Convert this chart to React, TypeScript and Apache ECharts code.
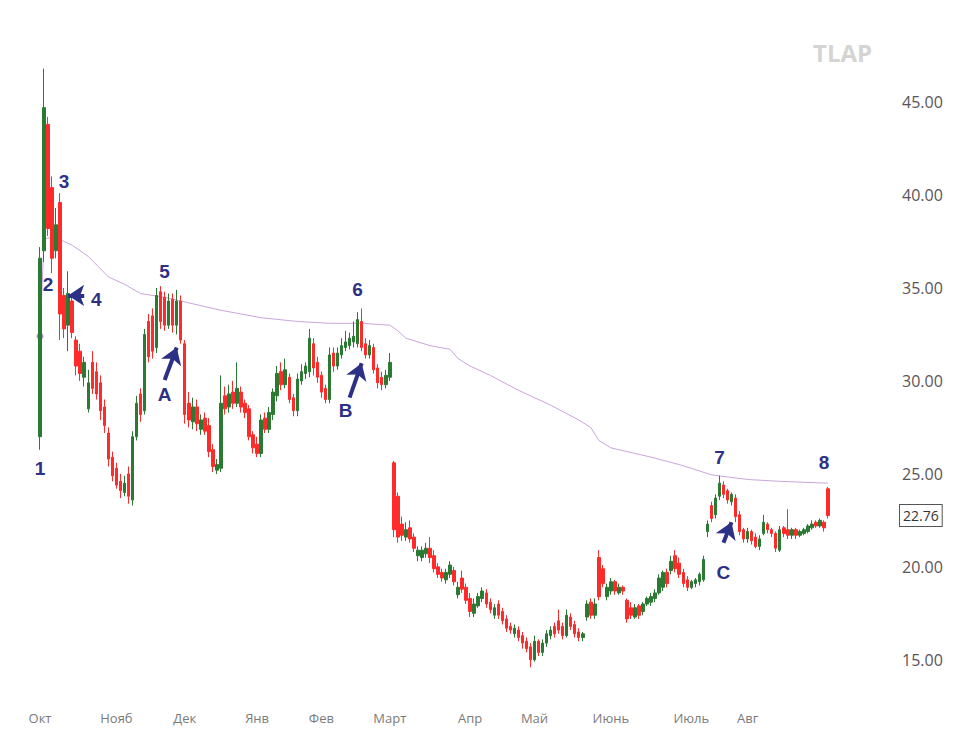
import React, { useEffect, useRef } from "react";
import * as echarts from "echarts";

const monthNames = ["Окт", "Нояб", "Дек", "Янв", "Фев", "Март", "Апр", "Май", "Июнь", "Июль", "Авг"];

// daily candles, each [open, close, low, high]
const octCandles = [
  [27.0, 36.6, 26.3, 37.2], [37.0, 44.7, 36.4, 46.8], [43.8, 38.2, 37.8, 44.2], [40.4, 36.6, 35.8, 41.0],
  [37.0, 38.4, 36.6, 39.3], [39.6, 33.6, 32.2, 40.1], [34.6, 32.8, 32.3, 35.0], [33.0, 34.7, 31.6, 35.9],
  [34.3, 32.6, 32.3, 34.6], [32.2, 30.8, 30.3, 32.4], [31.6, 30.4, 30.0, 32.0], [30.2, 31.0, 29.7, 31.3],
  [28.5, 29.9, 28.3, 30.6], [31.0, 29.6, 29.3, 31.6], [30.5, 29.3, 29.0, 31.0], [29.9, 28.4, 27.9, 30.3],
  [28.6, 27.6, 27.2, 29.0], [27.2, 25.8, 25.4, 27.5], [25.9, 24.9, 24.6, 26.2],
];
const novCandles = [
  [25.3, 24.4, 24.2, 25.6], [24.6, 24.1, 23.7, 25.0], [24.0, 24.5, 23.8, 24.9], [25.0, 23.8, 23.4, 25.4],
  [23.6, 27.0, 23.3, 27.3], [27.0, 28.8, 26.8, 29.2], [29.3, 28.2, 27.8, 29.6], [28.4, 32.5, 28.2, 32.8],
  [33.2, 31.3, 31.0, 33.6], [33.5, 31.6, 31.2, 33.9], [31.8, 34.6, 31.5, 35.0], [34.8, 33.2, 32.8, 35.1],
  [34.5, 33.0, 32.7, 34.8], [33.0, 34.3, 32.8, 34.7], [34.4, 33.0, 32.6, 34.7], [33.0, 34.3, 32.5, 34.9],
  [34.3, 32.2, 32.0, 34.6],
];
const decCandles = [
  [32.0, 28.2, 27.7, 32.2], [28.8, 27.9, 27.5, 29.4], [27.8, 28.6, 27.4, 29.1], [28.6, 27.7, 27.3, 29.0],
  [27.4, 27.9, 27.1, 28.2], [28.0, 27.3, 27.1, 28.3], [27.6, 26.2, 25.9, 28.0], [26.3, 25.4, 25.1, 26.6],
  [25.2, 25.5, 25.0, 25.8], [25.3, 28.8, 25.1, 30.3], [29.2, 28.5, 28.2, 29.7], [28.6, 29.3, 28.3, 29.8],
  [29.4, 28.8, 28.5, 30.0], [28.8, 29.6, 28.6, 31.0], [29.4, 28.6, 28.3, 29.7], [28.8, 28.3, 28.0, 29.0],
  [28.5, 27.0, 26.8, 28.7], [27.1, 26.4, 26.1, 27.3],
];
const janCandles = [
  [26.6, 26.1, 25.9, 27.0], [26.1, 27.9, 25.9, 28.2], [28.0, 27.4, 27.2, 28.3], [27.4, 28.3, 27.2, 28.6],
  [28.2, 29.4, 27.9, 29.6], [29.2, 30.4, 28.9, 30.8], [30.5, 29.8, 29.5, 31.0], [29.8, 30.6, 29.6, 31.2],
  [30.2, 29.0, 28.8, 30.4], [29.1, 28.4, 28.1, 29.3], [28.4, 30.1, 28.1, 30.4], [30.0, 30.5, 29.8, 30.9],
  [30.4, 30.8, 30.1, 31.0], [30.5, 32.3, 30.2, 32.8], [32.0, 30.7, 30.3, 32.3], [31.0, 30.2, 29.9, 31.3],
];
const febCandles = [
  [30.3, 29.4, 29.1, 30.5], [29.6, 29.0, 28.8, 29.8], [29.0, 31.4, 28.8, 31.8], [31.5, 30.8, 30.5, 31.8],
  [30.8, 31.5, 30.6, 31.8], [31.4, 31.9, 31.2, 32.3], [31.8, 32.1, 31.6, 32.7], [31.9, 32.3, 31.7, 32.6],
  [32.1, 32.4, 31.8, 33.2], [32.0, 33.3, 31.8, 33.7], [33.2, 31.8, 31.6, 33.9], [32.0, 31.4, 31.2, 32.3],
  [31.4, 31.9, 31.2, 32.2], [31.8, 30.6, 30.4, 32.0], [30.7, 29.9, 29.6, 30.9], [30.2, 29.8, 29.5, 30.5],
  [29.8, 30.3, 29.6, 30.6],
];
const marCandles = [
  [30.2, 31.0, 30.0, 31.5], [25.6, 22.0, 21.6, 25.7], [23.8, 21.6, 21.3, 24.0], [22.3, 21.7, 21.4, 22.7],
  [21.6, 22.0, 21.4, 22.4], [22.1, 21.5, 21.3, 22.5], [21.6, 21.0, 20.8, 21.8], [20.6, 20.9, 20.3, 21.1],
  [20.5, 20.9, 20.3, 21.1], [20.7, 21.0, 20.5, 21.3], [21.0, 20.5, 20.2, 21.6], [20.6, 19.9, 19.7, 20.9],
  [20.0, 19.6, 19.4, 20.2], [19.7, 19.4, 19.2, 19.9], [19.3, 19.7, 19.1, 19.9], [19.6, 20.1, 19.4, 20.3],
  [19.8, 19.2, 19.0, 20.0], [18.5, 18.9, 18.3, 19.2], [19.4, 18.8, 18.6, 19.8], [18.9, 18.2, 18.0, 19.1],
];
const aprCandles = [
  [18.3, 17.6, 17.3, 18.6], [17.5, 18.0, 17.3, 18.3], [17.9, 18.4, 17.8, 18.6], [18.3, 18.7, 18.1, 18.9],
  [18.6, 18.0, 17.8, 18.8], [18.1, 17.7, 17.5, 18.3], [17.4, 17.8, 17.2, 18.0], [18.0, 17.4, 17.2, 18.2],
  [17.6, 17.1, 16.9, 17.8], [17.2, 16.7, 16.5, 17.4], [16.8, 16.6, 16.4, 17.0], [16.4, 16.7, 16.2, 16.9],
  [16.6, 16.2, 16.0, 16.8], [16.3, 15.9, 15.6, 16.5], [16.0, 15.6, 15.4, 16.2], [15.7, 15.0, 14.6, 15.9],
];
const mayCandles = [
  [15.0, 16.0, 14.9, 16.3], [16.0, 15.4, 15.2, 16.1], [15.4, 15.9, 15.2, 16.1], [15.9, 16.4, 15.7, 16.6],
  [16.3, 16.6, 16.1, 16.8], [16.8, 16.4, 16.2, 17.0], [17.1, 16.6, 16.4, 17.7], [16.8, 16.3, 16.1, 17.0],
  [16.3, 17.4, 16.2, 17.7], [17.3, 16.8, 16.6, 17.5], [16.9, 16.4, 16.2, 17.1], [16.5, 16.2, 16.0, 16.7],
  [16.2, 16.4, 16.0, 16.5], [17.3, 18.0, 17.1, 18.2], [18.1, 17.4, 17.2, 18.3], [17.4, 18.0, 17.2, 18.3],
  [20.5, 18.4, 18.2, 20.9], [19.9, 19.1, 18.9, 20.1], [18.4, 18.9, 18.2, 19.1],
];
const junCandles = [
  [18.7, 19.2, 18.5, 19.4], [19.2, 18.7, 18.5, 19.3], [18.6, 18.9, 18.5, 19.1], [18.9, 18.7, 18.5, 19.0],
  [18.2, 17.2, 17.0, 18.3], [17.8, 17.4, 17.2, 18.1], [17.3, 17.8, 17.2, 18.0], [17.9, 17.4, 17.2, 18.0],
  [17.6, 18.0, 17.4, 18.1], [18.0, 18.3, 17.9, 18.4], [18.1, 18.4, 17.9, 18.6], [18.3, 18.6, 18.1, 18.8],
  [18.6, 19.4, 18.5, 19.6], [18.9, 19.7, 18.7, 19.8], [19.7, 19.1, 18.9, 19.9], [19.8, 20.3, 19.6, 20.6],
  [20.6, 19.9, 19.7, 20.9], [20.2, 19.6, 19.4, 20.5], [19.7, 19.1, 18.9, 19.9], [19.3, 18.9, 18.7, 19.5],
];
const julCandles = [
  [18.9, 19.2, 18.8, 19.3], [19.1, 19.3, 18.9, 19.4], [19.2, 19.6, 19.0, 19.7], [19.3, 20.4, 19.2, 20.6],
  [21.9, 22.3, 21.6, 22.5], [23.3, 22.6, 22.4, 23.5], [22.8, 23.7, 22.6, 23.9], [23.8, 24.5, 23.6, 24.9],
  [24.4, 23.9, 23.7, 24.6], [24.1, 23.6, 23.4, 24.2], [23.5, 23.9, 23.3, 24.0], [23.7, 22.7, 22.4, 23.9],
  [22.8, 21.9, 21.7, 23.0], [22.0, 21.5, 21.3, 22.1],
];
const augCandles = [
  [21.5, 21.9, 21.3, 22.1], [21.9, 21.4, 21.2, 22.0], [21.6, 21.1, 21.0, 21.8], [21.1, 21.5, 20.9, 21.7],
  [21.8, 22.4, 21.7, 22.8], [22.3, 22.0, 21.8, 22.4], [22.0, 21.8, 21.6, 22.1], [21.8, 21.0, 20.8, 21.9],
  [20.9, 22.0, 20.8, 22.2], [22.1, 21.8, 21.6, 22.2], [22.0, 21.7, 21.5, 23.1], [21.7, 22.0, 21.5, 22.1],
  [22.0, 21.7, 21.5, 22.1], [21.7, 21.9, 21.6, 22.0], [21.8, 22.0, 21.7, 22.1], [21.9, 22.2, 21.8, 22.3],
  [22.1, 22.3, 22.0, 22.5], [22.4, 22.2, 22.1, 22.5], [22.2, 22.5, 22.1, 22.6], [22.4, 22.1, 21.9, 22.5],
  [24.2, 22.76, 22.6, 24.3],
];

const monthCandles = [
  octCandles, novCandles, decCandles, janCandles, febCandles, marCandles,
  aprCandles, mayCandles, junCandles, julCandles, augCandles,
];

// long moving average
const maPoints: [string, number][] = [
  ["Окт-1", 32.4], ["Окт-2", 37.6], ["Окт-3", 37.7], ["Окт-6", 37.6], ["Окт-9", 37.3],
  ["Окт-13", 36.7], ["Окт-18", 35.6], ["Нояб-3", 35.2], ["Нояб-7", 34.7], ["Нояб-13", 34.5],
  ["Дек-2", 34.2], ["Дек-10", 33.8], ["Янв-2", 33.4], ["Янв-11", 33.2],
  ["Фев-3", 33.1], ["Фев-11", 33.1], ["Март-1", 33.0], ["Март-3", 32.7], ["Март-5", 32.3],
  ["Март-11", 31.9], ["Март-16", 31.7], ["Март-18", 31.2], ["Апр-1", 30.8], ["Апр-6", 30.3],
  ["Апр-13", 29.5], ["Май-5", 28.7], ["Май-12", 27.9], ["Май-15", 27.5], ["Май-17", 26.8],
  ["Июнь-1", 26.4], ["Июнь-5", 26.2], ["Июнь-11", 25.9], ["Июнь-18", 25.5], ["Июль-1", 25.3],
  ["Июль-6", 24.95], ["Авг-1", 24.7], ["Авг-9", 24.6], ["Авг-21", 24.5],
];

const priceTicks = [15, 20, 25, 30, 35, 40, 45];
const lastPrice = 22.76;

const annotationTexts: [string, string, number][] = [
  ["1", "Окт-1", 25.3], ["2", "Окт-3", 35.2], ["3", "Окт-7", 40.75], ["4", "Окт-15", 34.4],
  ["5", "Нояб-13", 35.9], ["6", "Фев-10", 34.9], ["7", "Июль-8", 25.9], ["8", "Авг-20", 25.6],
  ["A", "Нояб-13", 29.25], ["B", "Фев-7", 28.4], ["C", "Июль-9", 19.7],
];

const arrowLines: [[string, number], [string, number]][] = [
  [["Окт-12", 34.6], ["Окт-8", 34.6]],
  [["Нояб-13", 30.05], ["Нояб-16", 31.8]],
  [["Фев-8", 29.1], ["Фев-11", 30.95]],
  [["Июль-9", 21.3], ["Июль-11", 22.4]],
];

const NAVY = "#2d3185";

export default function App() {
  const ref = useRef<HTMLDivElement>(null);

  useEffect(() => {
    if (!ref.current) return;
    const chart = echarts.init(ref.current, undefined, { renderer: "svg" });

    const categories: string[] = [];
    const candles: number[][] = [];
    monthCandles.forEach((arr, m) => {
      arr.forEach((c, k) => {
        categories.push(`${monthNames[m]}-${k + 1}`);
        candles.push(c);
      });
    });

    const maData = maPoints.map((p, i) =>
      i === 0 ? { value: p, symbol: "emptyCircle", symbolSize: 5 } : { value: p }
    );

    chart.setOption({
      animation: false,
      backgroundColor: "#ffffff",
      grid: { left: 38, width: 792, top: 37, height: 660 },
      graphic: [
        {
          type: "text",
          left: 813,
          top: 40,
          style: { text: "TLAP", fill: "#d4d4d4", font: 'bold 24px "Open Sans"' },
        },
      ],
      xAxis: {
        type: "category",
        data: categories,
        boundaryGap: true,
        axisLine: { show: false },
        axisTick: { show: false },
        splitLine: { show: false },
        axisLabel: {
          interval: (_i: number, v: string) => v.endsWith("-1"),
          formatter: (v: string) => v.split("-")[0],
          color: "#7a7a7a",
          fontSize: 13,
          fontFamily: "Open Sans",
          margin: 14,
        },
      },
      yAxis: {
        type: "value",
        position: "right",
        min: 13,
        max: 48.5,
        interval: 1,
        splitLine: { show: false },
        axisLine: { show: false },
        axisTick: { show: false },
        axisLabel: {
          formatter: (v: number) => (priceTicks.includes(v) ? v.toFixed(2) : ""),
          margin: 72,
          color: "#5a545a",
          fontSize: 16,
          fontFamily: "Open Sans",
        },
      },
      series: [
        {
          type: "line",
          data: maData,
          symbol: "none",
          showSymbol: true,
          silent: true,
          z: 1,
          lineStyle: { color: "#c9a6da", width: 1 },
          itemStyle: { color: "#b48ac8" },
          markLine: {
            silent: true,
            symbol: ["none", "none"],
            lineStyle: { color: "rgba(0,0,0,0)", width: 0 },
            label: {
              show: true,
              position: "end",
              distance: 70,
              formatter: lastPrice.toFixed(2),
              color: "#333",
              fontSize: 14,
              fontFamily: "Open Sans",
              borderColor: "#555",
              borderWidth: 1,
              padding: [4, 3, 3, 3],
              backgroundColor: "#fff",
            },
            data: [{ yAxis: lastPrice }],
          },
        },
        {
          type: "candlestick",
          data: candles,
          barWidth: 3,
          z: 2,
          silent: true,
          itemStyle: {
            color: "#2b7a34",
            color0: "#ff2a2a",
            borderColor: "#2b7a34",
            borderColor0: "#ff2a2a",
            borderWidth: 1,
          },
          markLine: {
            silent: true,
            symbol: ["none", "arrow"],
            symbolSize: 16,
            lineStyle: { color: NAVY, width: 4, type: "solid" },
            label: { show: false },
            data: arrowLines.map(([a, b]) => [{ coord: a }, { coord: b }]),
          },
          markPoint: {
            silent: true,
            symbol: "circle",
            symbolSize: 1,
            itemStyle: { color: "rgba(0,0,0,0)" },
            label: {
              show: true,
              position: "inside",
              formatter: "{b}",
              color: NAVY,
              fontSize: 19,
              fontWeight: "bold",
              fontFamily: "Liberation Sans",
            },
            data: annotationTexts.map(([t, c, v]) => ({ name: t, coord: [c, v] })),
          },
        },
      ],
    });

    return () => chart.dispose();
  }, []);

  return (
    <div
      ref={ref}
      style={{ position: "absolute", left: 0, top: 0, width: 961, height: 750, background: "#fff" }}
    />
  );
}
